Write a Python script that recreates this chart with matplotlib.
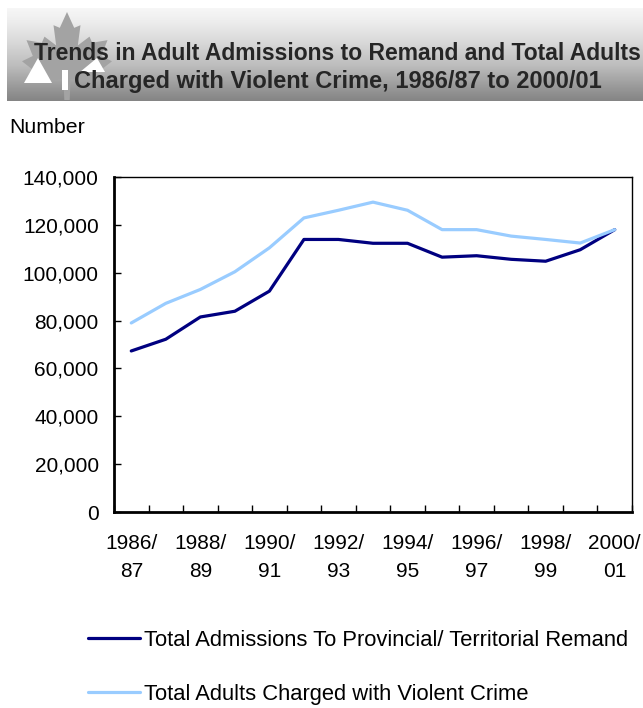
import numpy as np
import matplotlib.pyplot as plt
from matplotlib.patches import Polygon, Rectangle

plt.rcParams['font.family'] = ['Liberation Sans', 'DejaVu Sans']

# -----------------------------
# Дані
# -----------------------------
years = ["1986/\n87", "1987/\n88", "1988/\n89", "1989/\n90", "1990/\n91",
         "1991/\n92", "1992/\n93", "1993/\n94", "1994/\n95", "1995/\n96",
         "1996/\n97", "1997/\n98", "1998/\n99", "1999/\n00", "2000/\n01"]

remand = [67300, 72200, 81500, 83900, 92300, 113900, 113900, 112300,
          112300, 106500, 107100, 105600, 104800, 109600, 118000]
violent = [79000, 87200, 93000, 100400, 110400, 122900, 126100, 129500,
           126100, 118000, 118000, 115300, 113900, 112400, 118000]

yticks = [0, 20000, 40000, 60000, 80000, 100000, 120000, 140000]

W, H = 643, 708
fig = plt.figure(figsize=(W / 100, H / 100), dpi=100)

# -----------------------------
# Заголовок (банер)
# -----------------------------
bx0, by0, bx1, by1 = 7, 8, 643, 101
ban = fig.add_axes([bx0 / W, 1 - by1 / H, (bx1 - bx0) / W, (by1 - by0) / H])
ban.set_xlim(bx0, bx1)
ban.set_ylim(by1, by0)
ban.axis('off')
grad = np.linspace(0, 1, 100).reshape(-1, 1)
ban.imshow(grad, cmap='Greys', vmin=-0.15, vmax=1.9, aspect='auto',
           extent=[bx0, bx1, by1, by0], interpolation='bicubic')

leaf = [(0.5, 0), (0.42, 0.18), (0.35, 0.15), (0.38, 0.38), (0.25, 0.28),
        (0.22, 0.35), (0.05, 0.32), (0.12, 0.5), (0.0, 0.56), (0.2, 0.72),
        (0.17, 0.8), (0.46, 0.76), (0.47, 1.0), (0.53, 1.0), (0.54, 0.76),
        (0.83, 0.8), (0.8, 0.72), (1.0, 0.56), (0.88, 0.5), (0.95, 0.32),
        (0.78, 0.35), (0.75, 0.28), (0.62, 0.38), (0.65, 0.15), (0.58, 0.18)]
lx0, ly0, lw, lh = 22, 12, 90, 88
ban.add_patch(Polygon([(lx0 + a * lw, ly0 + b * lh) for a, b in leaf],
                      closed=True, fc='#a3a3a3', ec='none'))
ban.add_patch(Polygon([(24, 83), (52, 83), (38, 58)], fc='white', ec='none'))
ban.add_patch(Rectangle((62, 70), 6, 20, fc='white', ec='none'))
ban.add_patch(Polygon([(80, 72), (97, 58), (105, 72)], fc='white', ec='none'))

fig.text(337 / W, 1 - 60 / H, "Trends in Adult Admissions to Remand and Total Adults",
         ha='center', va='baseline', fontsize=16.5, fontweight='bold', color='#262626')
fig.text(338 / W, 1 - 88 / H, "Charged with Violent Crime, 1986/87 to 2000/01",
         ha='center', va='baseline', fontsize=17, fontweight='bold', color='#262626')
fig.text(9 / W, 1 - 127.5 / H, "Number", ha='left', va='center', fontsize=15.3)

# -----------------------------
# Графік
# -----------------------------
ax = fig.add_axes([114 / W, 1 - 512 / H, (632 - 114) / W, (512 - 177) / H])
x = np.arange(len(years))
ax.plot(x, remand, color='#000080', lw=2.3, solid_capstyle='round',
        label="Total Admissions To Provincial/ Territorial Remand")
ax.plot(x, violent, color='#99ccff', lw=2.3, solid_capstyle='round',
        label="Total Adults Charged with Violent Crime")

ax.set_xlim(-0.5, len(years) - 0.5)
ax.set_ylim(0, 140000)
ax.set_yticks(yticks)
ax.set_yticklabels([f"{v:,}" for v in yticks])
ax.set_xticks(x[::2])
ax.set_xticklabels(years[::2])
ax.set_xticks(np.arange(len(years) + 1) - 0.5, minor=True)
ax.tick_params(axis='x', which='major', length=0, pad=16, labelsize=15)
ax.tick_params(axis='x', which='minor', direction='in', length=5, width=1)
ax.tick_params(axis='y', direction='in', length=5, width=1, pad=11, labelsize=15)
for lab in ax.get_xticklabels():
    lab.set_linespacing(1.6)

ax.spines['left'].set_linewidth(2)
ax.spines['bottom'].set_linewidth(2)
ax.spines['top'].set_linewidth(1)
ax.spines['right'].set_linewidth(1)

ax.legend(loc='upper left', bbox_to_anchor=(88 / W, 1 - 630 / H),
          bbox_transform=fig.transFigure, frameon=False, fontsize=15.8,
          handlelength=2.35, handletextpad=0.22, labelspacing=1.5,
          borderpad=0, borderaxespad=0)

fig.savefig("out.png", dpi=100)
